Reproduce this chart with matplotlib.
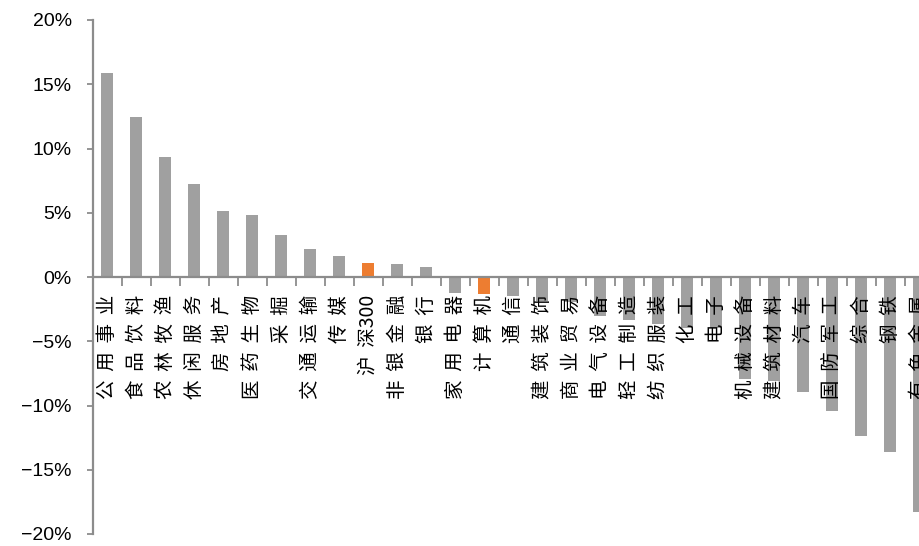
import matplotlib
matplotlib.use("Agg")
import matplotlib.pyplot as plt
from matplotlib.ticker import FuncFormatter, FixedLocator

# industry names and returns (%)
industries = ["公用事业", "食品饮料", "农林牧渔", "休闲服务", "房地产", "医药生物", "采掘",
              "交通运输", "传媒", "沪深300", "非银金融", "银行", "家用电器", "计算机", "通信",
              "建筑装饰", "商业贸易", "电气设备", "轻工制造", "纺织服装", "化工", "电子",
              "机械设备", "建筑材料", "汽车", "国防军工", "综合", "钢铁", "有色金属"]
returns = [15.9, 12.45, 9.35, 7.2, 5.15, 4.85, 3.3, 2.2, 1.6, 1.1, 1.0, 0.8, -1.25, -1.35,
           -1.5, -1.9, -1.95, -3.05, -3.35, -3.65, -4.0, -4.0, -7.9, -8.1, -8.95, -10.4,
           -12.35, -13.6, -18.3]
highlight = ["沪深300", "计算机"]

gray = "#A0A0A0"
orange = "#ED7D31"
axis_gray = "#8C8C8C"


def spaced(name):
    # put a gap between the Chinese characters, keep digits together
    out = name[0]
    for a, b in zip(name[:-1], name[1:]):
        if not a.isascii() and not b.isascii():
            out += "  "
        out += b
    return out


fig = plt.figure(figsize=(9.2, 5.46), dpi=100)
n = len(industries)
# the plot runs past the right edge of the figure, like the original
ax = fig.add_axes([92.7 / 920, 12 / 546, n * 29.0 / 920, 514 / 546])
ax.set_axisbelow(False)  # labels sit on top of the bars

colors = [orange if c in highlight else gray for c in industries]
x = list(range(n))
ax.bar(x, returns, width=0.41, color=colors, zorder=2)

ax.set_xlim(-0.5, n - 0.5)
ax.set_ylim(-20, 20)
ax.set_yticks([-20, -15, -10, -5, 0, 5, 10, 15, 20])
ax.yaxis.set_major_formatter(FuncFormatter(lambda v, p: "%d%%" % v if v >= 0 else "\u2212%d%%" % -v))
for lab in ax.get_yticklabels():
    lab.set_fontfamily("Liberation Sans")
    lab.set_fontsize(14)

ax.spines["top"].set_visible(False)
ax.spines["right"].set_visible(False)
ax.spines["bottom"].set_position(("data", 0))
ax.spines["bottom"].set_color(axis_gray)
ax.spines["left"].set_color(axis_gray)
ax.spines["bottom"].set_linewidth(1.6)
ax.spines["left"].set_linewidth(1.6)
ax.spines["bottom"].set_zorder(3)

ax.tick_params(axis="y", direction="out", length=4.5, width=1.3, color=axis_gray, pad=10.5)

# labels at the bar centres, tick marks between the bars
ax.set_xticks(x)
ax.set_xticklabels([spaced(c) for c in industries], rotation=90, va="top", ha="center",
                   fontsize=14, family=["Noto Sans CJK SC", "DejaVu Sans"])
ax.tick_params(axis="x", which="major", length=0, pad=13)
ax.xaxis.set_minor_locator(FixedLocator([i + 0.5 for i in range(n)]))
ax.tick_params(axis="x", which="minor", direction="out", length=6.5, width=1.3, color=axis_gray)

fig.savefig("out.png", dpi=100)
